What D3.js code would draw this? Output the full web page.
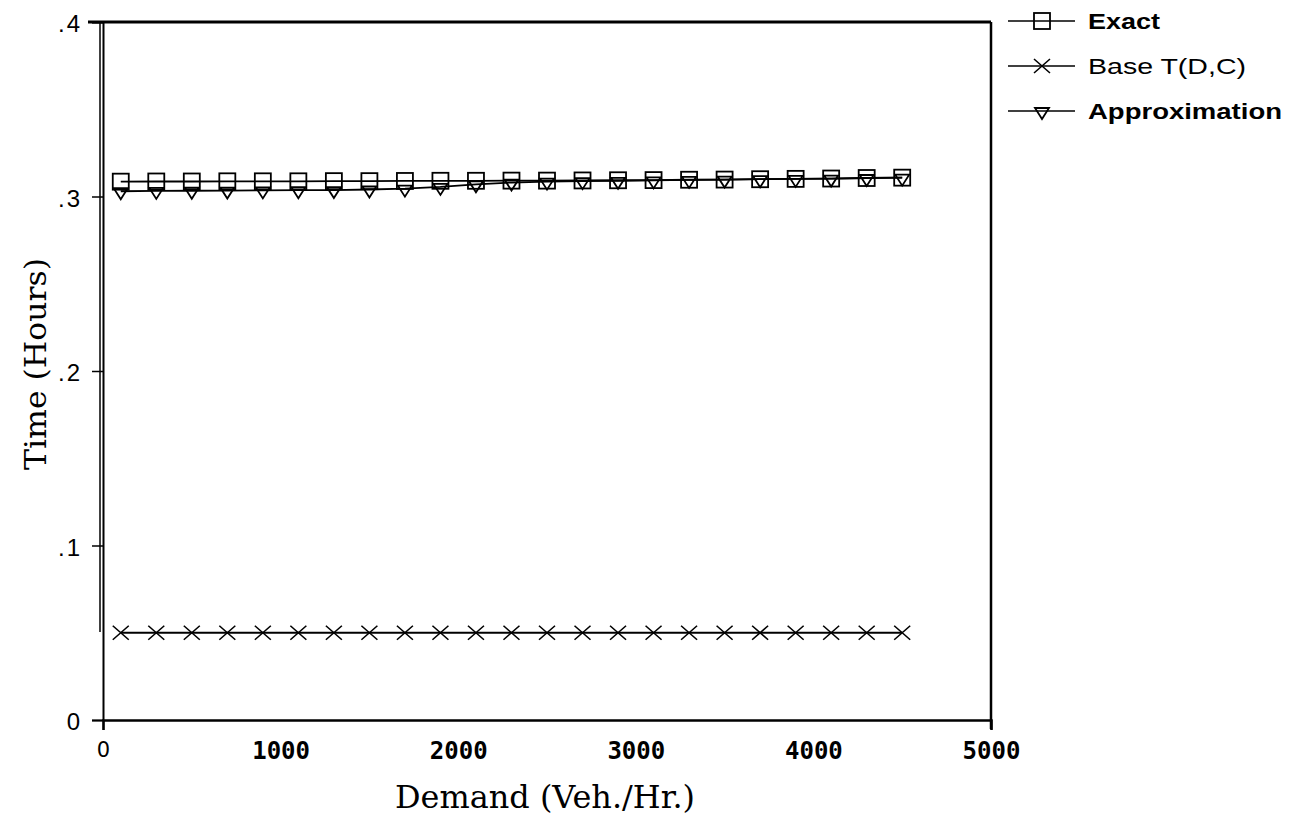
<!DOCTYPE html>
<html>
<head>
<meta charset="utf-8">
<script src="https://cdn.jsdelivr.net/npm/d3@7"></script>
<style>
  body { margin: 0; background: #fff; }
  svg { display: block; }
</style>
</head>
<body>
<div id="chart"></div>
<script>
// Data
const demand = [100, 300, 500, 700, 900, 1100, 1300, 1500, 1700, 1900, 2100, 2300,
                2500, 2700, 2900, 3100, 3300, 3500, 3700, 3900, 4100, 4300, 4500];
const exact = [0.3085, 0.3086, 0.3086, 0.3087, 0.3087, 0.3087, 0.3088, 0.3088, 0.3089, 0.3090, 0.3090, 0.3091,
               0.3091, 0.3092, 0.3093, 0.3094, 0.3096, 0.3097, 0.3099, 0.3101, 0.3103, 0.3106, 0.3108];
const base = [0.0500, 0.0500, 0.0500, 0.0500, 0.0500, 0.0500, 0.0500, 0.0500, 0.0500, 0.0500, 0.0500, 0.0500,
              0.0500, 0.0500, 0.0500, 0.0500, 0.0500, 0.0500, 0.0500, 0.0500, 0.0500, 0.0500, 0.0500];
const approx = [0.3030, 0.3032, 0.3033, 0.3034, 0.3035, 0.3036, 0.3037, 0.3040, 0.3045, 0.3055, 0.3070, 0.3080,
                0.3085, 0.3088, 0.3090, 0.3092, 0.3095, 0.3097, 0.3099, 0.3101, 0.3103, 0.3106, 0.3108];
const seriesNames = ["Exact", "Base T(D,C)", "Approximation"];
const xTicks = [0, 1000, 2000, 3000, 4000, 5000];
const yTicks = [0, 0.1, 0.2, 0.3, 0.4];
const yTickLabels = ["0", ".1", ".2", ".3", ".4"];

const W = 1293, H = 823;
const plotL = 103, plotR = 991, plotT = 22, plotB = 720;

const svg = d3.select('#chart').append('svg')
    .attr('width', W).attr('height', H);

const x = d3.scaleLinear().domain([0, 5000]).range([plotL, plotR]);
const y = d3.scaleLinear().domain([0, 0.4]).range([plotB, plotT]);

// Frame: top and right edges
svg.append('line').attr('x1', 88).attr('x2', plotR).attr('y1', plotT).attr('y2', plotT)
    .attr('stroke', '#000').attr('stroke-width', 3);
svg.append('line').attr('x1', plotR).attr('x2', plotR).attr('y1', plotT).attr('y2', plotB + 9)
    .attr('stroke', '#000').attr('stroke-width', 2.5);
// double line on the left edge
svg.append('line').attr('x1', plotL - 3).attr('x2', plotL - 3).attr('y1', plotT).attr('y2', 632)
    .attr('stroke', '#000').attr('stroke-width', 1.5);

// Y axis
const yAxis = svg.append('g').attr('transform', `translate(${plotL},0)`)
    .call(d3.axisLeft(y).tickValues(yTicks).tickSize(11).tickPadding(10)
        .tickFormat((d, i) => yTickLabels[i]));
yAxis.select('.domain').attr('stroke-width', 2);
yAxis.selectAll('.tick line').attr('stroke-width', 1.5);
yAxis.selectAll('text').attr('font-family', 'Liberation Sans, Arial, sans-serif')
    .attr('font-size', 24).attr('fill', '#000').attr('dy', '0.4em')
    .attr('letter-spacing', 2);

// X axis
const xAxis = svg.append('g').attr('transform', `translate(0,${plotB})`)
    .call(d3.axisBottom(x).tickValues(xTicks).tickSize(10).tickPadding(12)
        .tickFormat(d3.format('d')));
xAxis.select('.domain').attr('stroke-width', 2.5);
xAxis.selectAll('.tick line').attr('stroke-width', 1.5)
    .attr('opacity', d => (d === 0 || d === 5000) ? 1 : 0);
xAxis.selectAll('text').attr('font-family', 'DejaVu Sans Mono, monospace')
    .attr('font-weight', 'bold').attr('font-size', 24).attr('fill', '#000');
xAxis.selectAll('.tick').filter(d => d === 0).select('text')
    .attr('font-weight', 'normal').attr('font-family', 'DejaVu Sans, sans-serif').attr('font-size', 21);

// Axis titles
svg.append('text').attr('x', 545).attr('y', 808).attr('text-anchor', 'middle')
    .attr('font-family', 'DejaVu Serif, Liberation Serif, serif')
    .attr('font-size', 31).attr('textLength', 300).attr('lengthAdjust', 'spacingAndGlyphs')
    .text('Demand (Veh./Hr.)');
svg.append('text').attr('transform', 'translate(46,364) rotate(-90)').attr('text-anchor', 'middle')
    .attr('font-family', 'DejaVu Serif, Liberation Serif, serif')
    .attr('font-size', 29).attr('textLength', 212).attr('lengthAdjust', 'spacingAndGlyphs')
    .text('Time (Hours)');

// Marker drawing
function drawMarker(g, type, cx, cy) {
    if (type === 'square') {
        g.append('rect').attr('x', cx - 8).attr('y', cy - 8).attr('width', 16).attr('height', 16)
            .attr('fill', 'none').attr('stroke', '#000').attr('stroke-width', 1.8);
    } else if (type === 'x') {
        g.append('path').attr('d', `M${cx - 8},${cy - 7}L${cx + 8},${cy + 7}M${cx - 8},${cy + 7}L${cx + 8},${cy - 7}`)
            .attr('stroke', '#000').attr('stroke-width', 1.6).attr('fill', 'none');
    } else {
        g.append('path').attr('d', `M${cx - 7},${cy - 3}L${cx + 7},${cy - 3}L${cx},${cy + 8}Z`)
            .attr('fill', 'none').attr('stroke', '#000').attr('stroke-width', 1.8);
    }
}

const series = [
    { name: seriesNames[0], values: exact, marker: 'square', bold: true, len: 72 },
    { name: seriesNames[1], values: base, marker: 'x', bold: false, len: 158 },
    { name: seriesNames[2], values: approx, marker: 'tri', bold: true, len: 194 }
];

const line = d3.line().x(d => x(d[0])).y(d => y(d[1]));

series.forEach(s => {
    const pts = demand.map((d, i) => [d, s.values[i]]);
    const g = svg.append('g');
    g.append('path').datum(pts).attr('d', line)
        .attr('fill', 'none').attr('stroke', '#000').attr('stroke-width', 1.8);
    pts.forEach(p => drawMarker(g, s.marker, x(p[0]), y(p[1])));
});

// Legend
const legendY = [21, 66, 111];
series.forEach((s, i) => {
    const g = svg.append('g');
    const ly = legendY[i];
    g.append('line').attr('x1', 1008).attr('x2', 1075).attr('y1', ly).attr('y2', ly)
        .attr('stroke', '#000').attr('stroke-width', 1.6);
    drawMarker(g, s.marker, 1042, ly);
    g.append('text').attr('x', 1088).attr('y', ly + 8)
        .attr('font-family', 'Liberation Sans, Arial, sans-serif')
        .attr('font-weight', s.bold ? 'bold' : 'normal')
        .attr('font-size', 22).attr('textLength', s.len).attr('lengthAdjust', 'spacingAndGlyphs')
        .text(s.name);
});
</script>
</body>
</html>
